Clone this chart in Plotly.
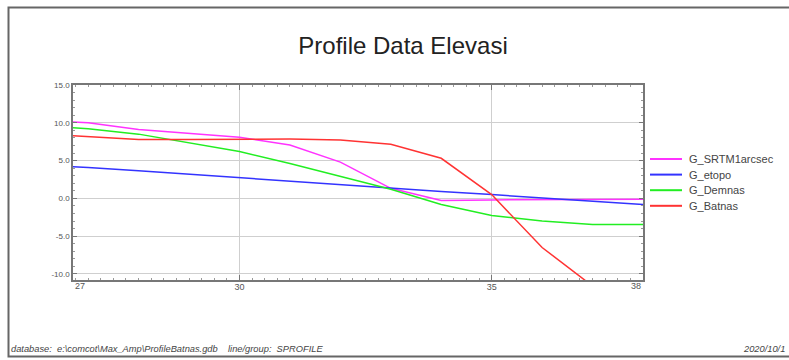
import plotly.graph_objects as go

x_vals = [26.7, 27, 28, 29, 30, 31, 32, 33, 34, 35, 36, 37, 38]
srtm = [10.1, 10.0, 9.1, 8.6, 8.1, 7.07, 4.8, 1.33, -0.27, -0.2, -0.15, -0.1, -0.1]
etopo = [4.2, 4.1, 3.65, 3.2, 2.7, 2.25, 1.8, 1.3, 0.9, 0.5, 0.1, -0.35, -0.8]
demnas = [9.33, 9.2, 8.5, 7.4, 6.2, 4.6, 2.9, 1.2, -0.8, -2.27, -3.0, -3.45, -3.47]
batnas = [8.3, 8.2, 7.8, 7.8, 7.83, 7.85, 7.73, 7.16, 5.3, 0.5, -6.5, -11.6, -16.0]

series_names = ["G_SRTM1arcsec", "G_etopo", "G_Demnas", "G_Batnas"]
series_vals = [srtm, etopo, demnas, batnas]
colors = ["#ff33ff", "#3333ff", "#22ee22", "#ff3333"]

x_tick_vals = [30, 35]
x_edge_labels = ["27", "38"]
y_tick_vals = [-10, -5, 0, 5, 10, 15]
y_tick_text = ["-10.0", "-5.0", "0.0", "5.0", "10.0", "15.0"]

footer_left = "database:  e:\\comcot\\Max_Amp\\ProfileBatnas.gdb    line/group:  SPROFILE"
footer_right = "2020/10/1"

fig = go.Figure()
for name, vals, c in zip(series_names, series_vals, colors):
    fig.add_trace(go.Scatter(x=x_vals, y=vals, mode="lines", name=name,
                             line=dict(color=c, width=1.5), showlegend=False))

W, H = 789, 360
L, R, T, B = 73, 146, 85, 80
pw, ph = W - L - R, H - T - B

def px_x(p):
    return (p - L) / pw

def px_y(p):
    return (H - B - p) / ph

fig.update_layout(
    width=W, height=H,
    margin=dict(l=L, r=R, t=T, b=B),
    paper_bgcolor="white", plot_bgcolor="white",
    font=dict(family="Liberation Sans, Arial", color="#555"),
    title=dict(text="Profile Data Elevasi", x=403 / W, xanchor="center",
               y=1 - 46 / H, yanchor="middle",
               font=dict(size=24, color="#222", family="Liberation Sans, Arial")),
    showlegend=False,
)
fig.update_xaxes(range=[26.7, 38], tickvals=x_tick_vals, ticktext=[str(v) for v in x_tick_vals],
                 showgrid=True, gridcolor="#cfcfcf", gridwidth=1,
                 showline=True, linecolor="#777", linewidth=1.5, mirror="ticks",
                 ticks="inside", ticklen=5, tickcolor="#777",
                 minor=dict(dtick=0.25, ticks="inside", ticklen=2, tickcolor="#999", showgrid=False),
                 tickfont=dict(size=9, color="#555"), zeroline=False, ticklabelstandoff=-3)
fig.update_yaxes(range=[-10.8, 15], tickvals=y_tick_vals, ticktext=y_tick_text,
                 showgrid=True, gridcolor="#cfcfcf", gridwidth=1,
                 showline=True, linecolor="#777", linewidth=1.5, mirror="ticks",
                 ticks="inside", ticklen=4, tickcolor="#777",
                 minor=dict(dtick=1, ticks="inside", ticklen=2, tickcolor="#999", showgrid=False),
                 tickfont=dict(size=8, color="#555"), zeroline=False)

# edge x labels
fig.add_annotation(x=26.7, y=0, xref="x", yref="paper", text=x_edge_labels[0],
                   xanchor="left", yanchor="top", yshift=1, showarrow=False,
                   font=dict(size=9, color="#555"))
fig.add_annotation(x=38, y=0, xref="x", yref="paper", text=x_edge_labels[1],
                   xanchor="right", yanchor="top", yshift=1, showarrow=False,
                   font=dict(size=9, color="#555"))

# manual legend (compact spacing as in the original)
leg_y0 = 159
leg_dy = 15.6
for i, (name, c) in enumerate(zip(series_names, colors)):
    yy = px_y(leg_y0 + i * leg_dy)
    fig.add_shape(type="line", xref="paper", yref="paper",
                  x0=px_x(650), x1=px_x(682), y0=yy, y1=yy,
                  line=dict(color=c, width=2))
    fig.add_annotation(x=px_x(687), y=yy, xref="paper", yref="paper", text=name,
                       xanchor="left", yanchor="middle", showarrow=False,
                       font=dict(size=11, color="#444", family="Liberation Sans, Arial"))

# footer
fig.add_annotation(x=px_x(9), y=px_y(349), xref="paper", yref="paper",
                   text="<i>" + footer_left + "</i>",
                   xanchor="left", yanchor="middle", showarrow=False,
                   font=dict(size=9.3, color="#444", family="Liberation Sans, Arial"))
fig.add_annotation(x=px_x(787), y=px_y(349), xref="paper", yref="paper",
                   text="<i>" + footer_right + "</i>",
                   xanchor="right", yanchor="middle", showarrow=False,
                   font=dict(size=9.3, color="#444", family="Liberation Sans, Arial"))

# outer frame
fig.add_shape(type="rect", xref="paper", yref="paper",
              x0=px_x(8.5), x1=px_x(800), y0=px_y(356.5), y1=px_y(7.5),
              line=dict(color="#666", width=2), layer="below")

fig.write_html("out.html")
